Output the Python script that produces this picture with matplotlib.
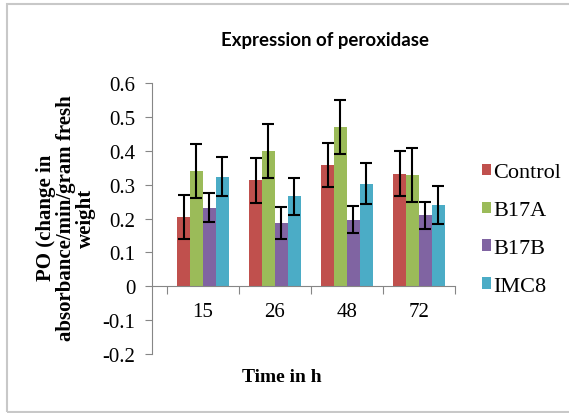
import matplotlib.pyplot as plt
import matplotlib.patches as mpatches
import matplotlib.transforms as mtransforms
import numpy as np

# data
times = ['15', '26', '48', '72']
series = ['Control', 'B17A', 'B17B', 'IMC8']
control = [0.205, 0.313, 0.358, 0.332]
b17a = [0.340, 0.400, 0.470, 0.328]
b17b = [0.232, 0.186, 0.197, 0.209]
imc8 = [0.324, 0.266, 0.303, 0.240]
control_err = [0.065, 0.067, 0.064, 0.066]
b17a_err = [0.08, 0.08, 0.08, 0.08]
b17b_err = [0.042, 0.047, 0.041, 0.041]
imc8_err = [0.057, 0.055, 0.060, 0.057]

values = [control, b17a, b17b, imc8]
errors = [control_err, b17a_err, b17b_err, imc8_err]
colors = ['#C0504D', '#9BBB59', '#8064A2', '#4BACC6']

fig = plt.figure(figsize=(5.69, 4.14), dpi=100)
ax = fig.add_axes([0.2671, 0.1425, 0.5325, 0.6545])

x = np.arange(len(times))
width = 0.18
for i, (vals, errs) in enumerate(zip(values, errors)):
    offs = (i - 1.5) * width
    ax.bar(x + offs, vals, width, color=colors[i], label=series[i],
           yerr=errs, capsize=4,
           error_kw=dict(ecolor='black', elinewidth=1.5, capthick=1.5))

ax.set_xlim(-0.708, len(times) - 0.5)
ax.set_ylim(-0.2, 0.6)
ax.set_yticks(np.arange(-0.2, 0.61, 0.1))
ax.set_yticklabels(['-0.2', '-0.1', '0', '0.1', '0.2', '0.3', '0.4', '0.5', '0.6'],
                   family='Liberation Serif', fontsize=15)

# category boundaries as ticks, labels as text under the zero line
ax.set_xticks(np.arange(-0.5, len(times), 1.0))
ax.set_xticklabels([])
ax.tick_params(axis='x', length=6, color='#868686', direction='out')
ax.tick_params(axis='y', length=5, color='#868686', direction='out', pad=7)
trans = ax.transData + mtransforms.ScaledTranslation(0, -11 / 72, fig.dpi_scale_trans)
for xi, t in zip(x, times):
    ax.text(xi, 0, t, transform=trans, ha='center', va='top',
            family='Liberation Serif', fontsize=15)

for s in ['top', 'right']:
    ax.spines[s].set_visible(False)
ax.spines['bottom'].set_position(('data', 0))
ax.spines['bottom'].set_color('#868686')
ax.spines['left'].set_color('#868686')

ax.set_xlabel('Time in h', family='Liberation Serif', fontsize=14,
              fontweight='bold', labelpad=0)
ax.xaxis.set_label_coords(0.427, -0.05)
ax.set_ylabel('PO (change in\nabsorbance/min/gram fresh\nweight', family='Liberation Serif',
              fontsize=15, fontweight='bold', linespacing=1.0)
ax.yaxis.set_label_coords(-0.185, 0.505)

fig.text(0.572, 0.903, 'Expression of peroxidase', ha='center', va='center',
         family='Lato', fontweight='bold', fontsize=13.4)

ax.legend(loc='center left', bbox_to_anchor=(0.812, 0.443), bbox_transform=fig.transFigure,
          frameon=False, prop={'family': 'Liberation Serif', 'size': 16},
          handlelength=0.4, handleheight=0.4, handletextpad=0.1, labelspacing=0.85)

# light border around the chart area
fig.patches.append(mpatches.Rectangle((7 / 569, 1 / 414), 1.2, 1 - 6 / 414,
                                      transform=fig.transFigure, fill=False,
                                      edgecolor='#C8C8C8', linewidth=1.5))

fig.savefig('out.png', dpi=100)
